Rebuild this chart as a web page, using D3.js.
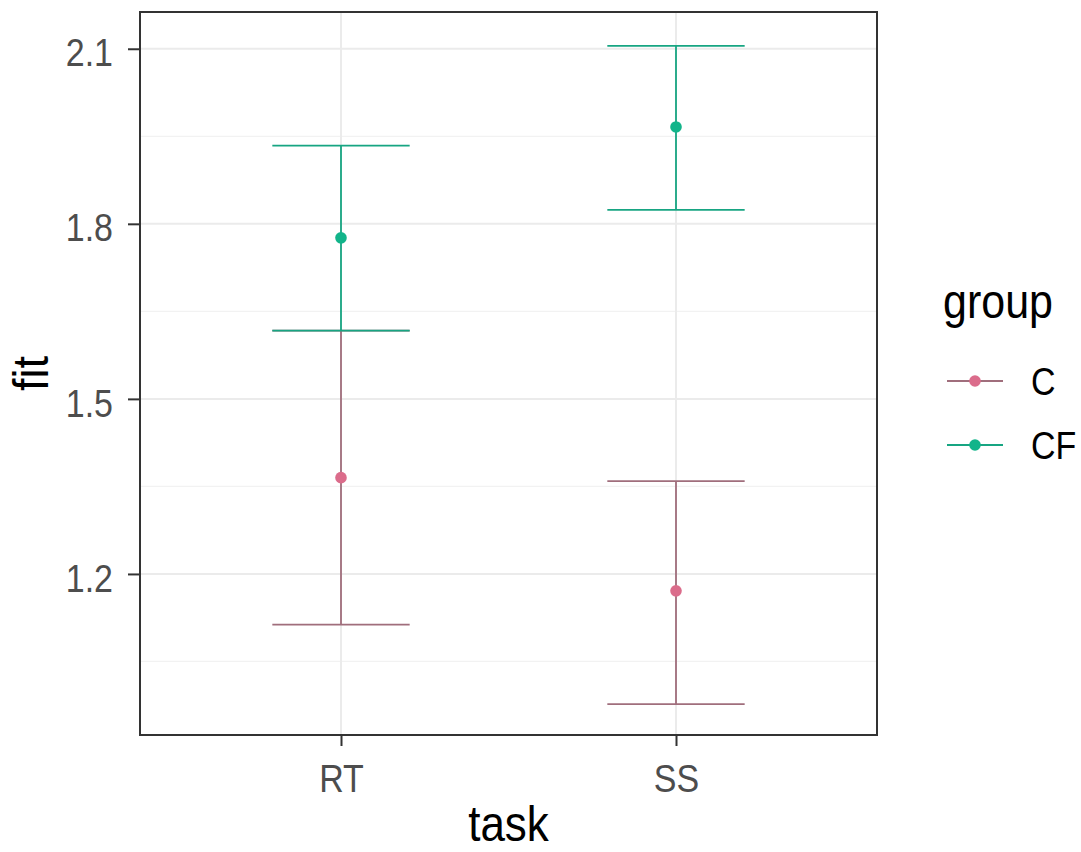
<!DOCTYPE html>
<html>
<head>
<meta charset="utf-8">
<script src="https://cdn.jsdelivr.net/npm/d3@7"></script>
<style>
html,body{margin:0;padding:0;background:#fff;}
svg{display:block;font-family:"Liberation Sans",Arial,sans-serif;}
</style>
</head>
<body>
<svg id="chart" width="1081" height="852"></svg>
<script>
const tasks = ["RT", "SS"];
const groups = ["C", "CF"];
const fitC = [1.365, 1.171];
const lowerC = [1.113, 0.977];
const upperC = [1.617, 1.359];
const fitCF = [1.776, 1.966];
const lowerCF = [1.617, 1.824];
const upperCF = [1.934, 2.105];
const yTicks = [1.2, 1.5, 1.8, 2.1];
const yMinor = [1.05, 1.35, 1.65, 1.95];

const lineColors = {C: "#a06e7c", CF: "#17a582"};
const pointColors = {C: "#db6c8b", CF: "#12b48a"};

const series = [
  {group: "C", fit: fitC, lo: lowerC, hi: upperC},
  {group: "CF", fit: fitCF, lo: lowerCF, hi: upperCF}
];

const svg = d3.select("#chart");
const L = 140, R = 877, T = 12, B = 735;
const SY = 1.12; // vertical stretch of text as in the reference

const x = d3.scalePoint().domain(tasks).range([L, R]).padding(0.6);
const y = d3.scaleLinear().domain([0.924, 2.163]).range([B, T]);
const capHalf = x.step() * 0.205;

svg.append("rect").attr("x", L).attr("y", T).attr("width", R - L).attr("height", B - T).attr("fill", "#fff");

// minor grid
svg.append("g").selectAll("line").data(yMinor).join("line")
  .attr("x1", L).attr("x2", R).attr("y1", d => y(d)).attr("y2", d => y(d))
  .attr("stroke", "#f2f2f2").attr("stroke-width", 1.2);
// major grid
svg.append("g").selectAll("line").data(yTicks).join("line")
  .attr("x1", L).attr("x2", R).attr("y1", d => y(d)).attr("y2", d => y(d))
  .attr("stroke", "#ebebeb").attr("stroke-width", 2);
svg.append("g").selectAll("line").data(tasks).join("line")
  .attr("x1", d => x(d)).attr("x2", d => x(d)).attr("y1", T).attr("y2", B)
  .attr("stroke", "#ebebeb").attr("stroke-width", 2);

// error bars and points
series.forEach(s => {
  const g = svg.append("g");
  const rows = tasks.map((t, i) => ({t, fit: s.fit[i], lo: s.lo[i], hi: s.hi[i]}));
  g.selectAll(".v").data(rows).join("line")
    .attr("x1", d => x(d.t)).attr("x2", d => x(d.t))
    .attr("y1", d => y(d.lo)).attr("y2", d => y(d.hi))
    .attr("stroke", lineColors[s.group]).attr("stroke-width", 1.8);
  g.selectAll(".lo").data(rows).join("line")
    .attr("x1", d => x(d.t) - capHalf).attr("x2", d => x(d.t) + capHalf)
    .attr("y1", d => y(d.lo)).attr("y2", d => y(d.lo))
    .attr("stroke", lineColors[s.group]).attr("stroke-width", 1.8);
  g.selectAll(".hi").data(rows).join("line")
    .attr("x1", d => x(d.t) - capHalf).attr("x2", d => x(d.t) + capHalf)
    .attr("y1", d => y(d.hi)).attr("y2", d => y(d.hi))
    .attr("stroke", lineColors[s.group]).attr("stroke-width", 1.8);
  g.selectAll("circle").data(rows).join("circle")
    .attr("cx", d => x(d.t)).attr("cy", d => y(d.fit)).attr("r", 5.8)
    .attr("fill", pointColors[s.group]);
});

// panel border
svg.append("rect").attr("x", L).attr("y", T).attr("width", R - L).attr("height", B - T)
  .attr("fill", "none").attr("stroke", "#333").attr("stroke-width", 2);

// axes
const yAxis = d3.axisLeft(y).tickValues(yTicks).tickFormat(d3.format(".1f")).tickSize(12).tickPadding(15);
const gy = svg.append("g").attr("transform", `translate(${L},0)`).call(yAxis);
const xAxis = d3.axisBottom(x).tickSize(11).tickPadding(16);
const gx = svg.append("g").attr("transform", `translate(0,${B})`).call(xAxis);
[gy, gx].forEach(g => {
  g.select(".domain").remove();
  g.selectAll(".tick line").attr("stroke", "#333").attr("stroke-width", 2);
  g.selectAll(".tick text").attr("fill", "#4d4d4d").attr("font-size", 34)
    .attr("font-family", "Liberation Sans, Arial, sans-serif")
    .attr("transform", `scale(1,${SY})`);
});
gy.selectAll(".tick text").attr("dy", "0.45em");

// axis titles
svg.append("text").attr("transform", `translate(${(L + R) / 2},841) scale(1,${SY})`)
  .attr("text-anchor", "middle").attr("font-size", 44).attr("fill", "#000").text("task");
svg.append("text").attr("transform", `translate(48,${(T + B) / 2}) rotate(-90) scale(1,${SY})`)
  .attr("text-anchor", "middle").attr("font-size", 45).attr("fill", "#000").text("fit");

// legend
const lg = svg.append("g");
lg.append("text").attr("transform", `translate(943,318) scale(1,${SY})`)
  .attr("font-size", 43).attr("fill", "#000").text("group");
const keyY = d3.scalePoint().domain(groups).range([381, 445]);
groups.forEach(gname => {
  const ky = keyY(gname);
  lg.append("line").attr("x1", 947).attr("x2", 1003).attr("y1", ky).attr("y2", ky)
    .attr("stroke", lineColors[gname]).attr("stroke-width", 1.8);
  lg.append("circle").attr("cx", 975).attr("cy", ky).attr("r", 5.8).attr("fill", pointColors[gname]);
  lg.append("text").attr("transform", `translate(1031,${ky}) scale(1,${SY})`)
    .attr("dy", "0.36em").attr("font-size", 34).attr("fill", "#000").text(gname);
});
</script>
</body>
</html>
